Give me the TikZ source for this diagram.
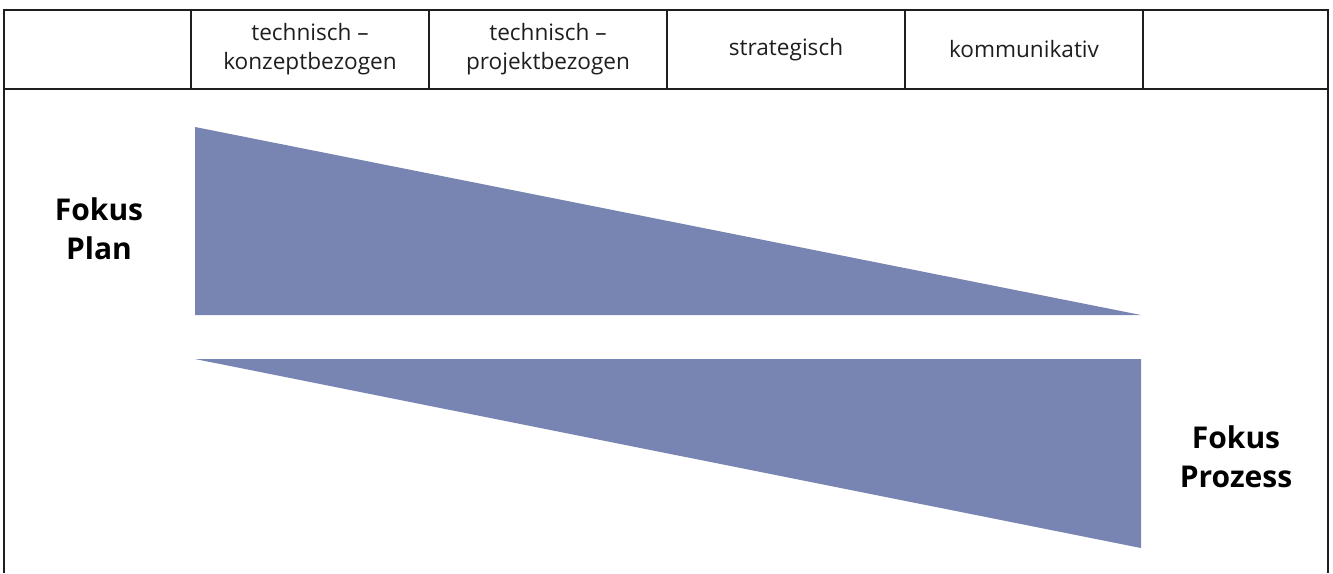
\documentclass[tikz,border=0pt]{standalone}
\usepackage{fontspec}
\setmainfont{Open Sans}
\usetikzlibrary{positioning}
\definecolor{wedgeblue}{RGB}{120,132,177}
\definecolor{linegray}{RGB}{30,30,30}

\begin{document}
\begin{tikzpicture}[x=0.5pt, y=-0.5pt, line width=0.6pt, draw=linegray,
    head cell/.style={draw, minimum width=119pt, minimum height=39.5pt, inner sep=0pt,
      outer sep=0pt, align=center, text=linegray, font=\fontsize{11.3}{14.5}\selectfont},
    fokus label/.style={align=center, font=\fontsize{15}{19.5}\selectfont\bfseries},
    wedge/.style={fill=wedgeblue, draw=none}]

  \useasboundingbox (0,0) rectangle (1333,573);

  % Frame (open at the bottom)
  \draw (4,573) -- (4,10) -- (1328,10) -- (1328,573);
  \draw (4,89) -- (1328,89);

  % Header cells (left to right)
  \node[head cell] (konzept) at (310,49.5) {technisch --\\konzeptbezogen};
  \node[head cell] (projekt) [right=0pt of konzept] {technisch --\\projektbezogen};
  \node[head cell] (strat) [right=0pt of projekt] {strategisch};
  \node[head cell] (komm) [right=0pt of strat] {kommunikativ};

  % Wedges
  \fill[wedge] (195,127) -- (195,315) -- (1141,315) -- cycle;
  \fill[wedge] (195,359) -- (1141,359) -- (1141,548) -- cycle;

  % Labels
  \node[fokus label] (plan) at (99,229) {Fokus\\Plan};
  \node[fokus label] (prozess) at (1236,457) {Fokus\\Prozess};
\end{tikzpicture}
\end{document}
